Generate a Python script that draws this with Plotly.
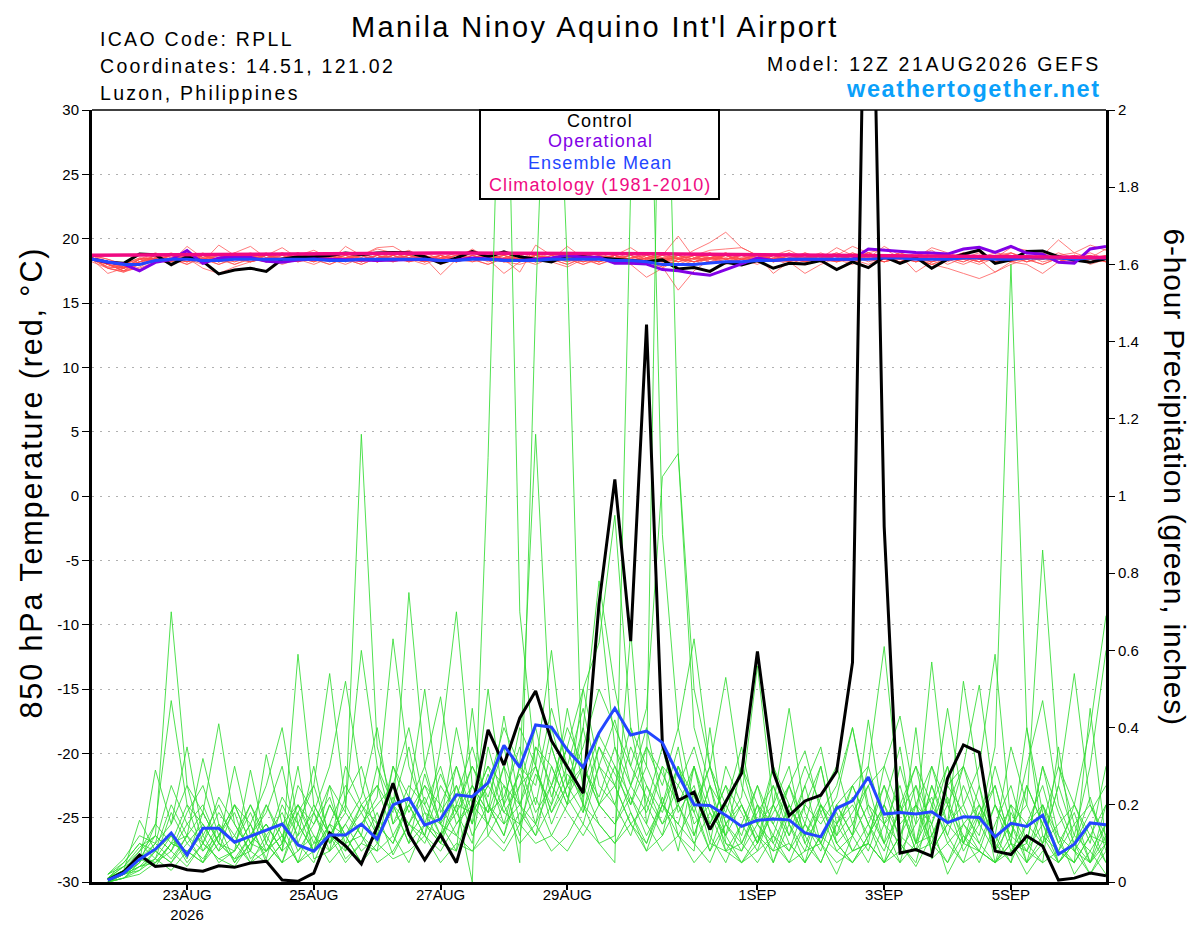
import pandas as pd
import plotly.graph_objs as go

# Time axes: temperature starts at 12Z, 6-hour precip starts at 18Z
t_times = pd.date_range("2026-08-21 12:00", periods=65, freq="6h")
p_times = t_times[1:]

# Axis ticks
xtick_vals = ["2026-08-23", "2026-08-25", "2026-08-27", "2026-08-29", "2026-09-01", "2026-09-03", "2026-09-05"]
xtick_text = ["23AUG<br>2026", "25AUG", "27AUG", "29AUG", "1SEP", "3SEP", "5SEP"]
ytick_vals = [-30, -25, -20, -15, -10, -5, 0, 5, 10, 15, 20, 25, 30]
ytick_text = ["-30", "-25", "-20", "-15", "-10", "-5", "0", "5", "10", "15", "20", "25", "30"]
y2tick_vals = [0, 0.2, 0.4, 0.6, 0.8, 1.0, 1.2, 1.4, 1.6, 1.8, 2.0]
y2tick_text = ["0", "0.2", "0.4", "0.6", "0.8", "1", "1.2", "1.4", "1.6", "1.8", "2"]

# 850 hPa temperature (C): control, operational, ensemble mean, climatology
t_ctrl = [18.42, 18.16, 18.08, 18.81, 18.75, 17.98, 18.6, 18.24, 17.26, 17.57,
          17.7, 17.46, 18.4, 18.6, 18.6, 18.7, 18.88, 18.75, 18.88, 18.93,
          18.9, 18.6, 18.1, 18.5, 19.0, 18.6, 18.97, 18.6, 18.4, 18.2,
          18.7, 18.6, 18.55, 18.45, 18.35, 18.2, 18.35, 17.65, 17.75, 17.46,
          18.16, 17.96, 18.3, 17.7, 18.08, 18.03, 18.3, 17.6, 18.2, 17.75,
          18.6, 18.08, 18.55, 17.7, 18.4, 18.8, 19.1, 18.08, 18.35, 19.0,
          19.05, 18.6, 18.35, 18.16, 18.45]
t_oper = [18.42, 18.16, 18.03, 17.5, 18.16, 18.37, 19.07, 18.08, 18.5, 18.6,
          18.55, 18.24, 18.16, 18.35, 18.42, 18.4, 18.4, 18.35, 18.3, 18.35,
          18.4, 18.4, 18.3, 18.35, 18.5, 18.4, 18.35, 18.3, 18.4, 18.5,
          18.7, 18.55, 18.55, 18.08, 18.08, 18.03, 17.6, 17.5, 17.3, 17.15,
          17.6, 18.08, 18.5, 18.3, 18.4, 18.4, 18.4, 18.45, 18.4, 19.2,
          19.1, 19.05, 18.93, 18.88, 18.8, 19.2, 19.33, 18.93, 19.4, 18.88,
          18.8, 18.16, 18.1, 19.2, 19.4]
t_mean = [18.4, 18.2, 18.0, 18.0, 18.3, 18.4, 18.4, 18.3, 18.3, 18.4,
          18.4, 18.4, 18.4, 18.4, 18.4, 18.3, 18.3, 18.4, 18.4, 18.4,
          18.4, 18.4, 18.3, 18.3, 18.4, 18.4, 18.3, 18.3, 18.3, 18.4,
          18.4, 18.4, 18.4, 18.3, 18.3, 18.2, 18.0, 18.0, 18.0, 18.1,
          18.2, 18.2, 18.3, 18.3, 18.4, 18.4, 18.4, 18.4, 18.4, 18.4,
          18.5, 18.5, 18.4, 18.4, 18.4, 18.5, 18.5, 18.4, 18.4, 18.5,
          18.5, 18.5, 18.4, 18.5, 18.5]
t_clim = [18.72, 18.73, 18.74, 18.75, 18.76, 18.77, 18.78, 18.79, 18.8, 18.81,
          18.82, 18.83, 18.84, 18.84, 18.85, 18.85, 18.86, 18.86, 18.87, 18.87,
          18.87, 18.88, 18.88, 18.88, 18.88, 18.88, 18.88, 18.87, 18.87, 18.87,
          18.86, 18.86, 18.85, 18.85, 18.84, 18.83, 18.82, 18.81, 18.8, 18.79,
          18.78, 18.77, 18.76, 18.75, 18.74, 18.73, 18.72, 18.71, 18.7, 18.69,
          18.68, 18.67, 18.66, 18.65, 18.64, 18.63, 18.62, 18.61, 18.6, 18.59,
          18.58, 18.57, 18.56, 18.55, 18.54]

# 850 hPa temperature, ensemble members
t_m01 = [18.5, 18.0, 17.5, 18.2, 18.7, 18.4, 18.9, 18.2, 19.5, 18.7, 18.4, 18.5, 18.2, 18.7, 19.1, 18.5, 18.4, 18.7, 19.2, 18.9, 18.5, 18.2, 18.4, 18.7, 19.1, 18.5, 18.7, 18.4, 18.2, 18.5, 18.9, 18.4, 18.0, 18.5, 18.7, 18.2, 17.8, 18.4, 18.7, 18.5, 18.9, 18.4, 18.0, 18.7, 19.1, 18.5, 18.2, 18.7, 18.4, 18.9, 19.2, 18.5, 18.2, 18.7, 18.4, 18.0, 18.5, 18.9, 18.7, 18.2, 18.5, 18.4, 18.7, 18.0, 18.4]
t_m02 = [18.4, 17.3, 17.7, 18.0, 18.5, 18.2, 19.4, 18.5, 18.0, 18.4, 18.7, 18.2, 18.5, 18.9, 18.4, 18.0, 18.5, 18.9, 18.4, 18.7, 19.1, 18.5, 18.2, 18.7, 18.4, 18.0, 18.5, 18.9, 18.7, 18.2, 17.8, 18.4, 18.7, 18.5, 18.0, 18.4, 18.7, 18.2, 18.5, 18.9, 18.4, 18.0, 18.5, 18.7, 18.2, 18.9, 18.5, 18.4, 18.0, 18.7, 18.5, 18.2, 18.7, 19.1, 18.4, 18.5, 18.2, 18.7, 18.9, 18.4, 18.0, 18.5, 18.7, 18.2, 18.5]
t_m03 = [18.2, 17.7, 17.4, 17.8, 18.4, 18.0, 18.5, 17.7, 17.3, 17.8, 18.2, 18.5, 18.0, 18.4, 18.7, 18.2, 19.4, 18.7, 18.2, 18.5, 18.4, 18.7, 18.0, 18.4, 18.9, 18.5, 18.2, 18.0, 18.4, 18.7, 18.5, 18.0, 18.4, 18.7, 18.2, 18.5, 18.9, 18.4, 18.2, 18.5, 18.7, 18.2, 18.5, 18.4, 18.9, 18.2, 18.5, 18.7, 18.4, 18.0, 18.5, 18.9, 18.4, 18.2, 18.7, 18.4, 18.0, 18.5, 18.2, 18.7, 18.4, 18.9, 18.5, 18.2, 18.4]
t_m04 = [18.5, 17.8, 17.7, 18.4, 18.9, 18.5, 18.2, 18.7, 18.4, 18.0, 18.5, 18.7, 18.4, 18.9, 18.5, 18.2, 18.5, 18.7, 19.3, 19.4, 18.7, 18.4, 18.5, 18.9, 18.4, 18.7, 18.2, 18.5, 18.9, 18.4, 18.0, 18.5, 18.2, 18.7, 18.4, 18.9, 18.5, 18.2, 18.7, 18.5, 18.0, 18.4, 18.7, 18.2, 18.5, 18.9, 18.4, 18.7, 18.2, 18.5, 18.4, 18.9, 18.5, 18.0, 18.4, 18.7, 18.5, 18.2, 18.9, 18.4, 18.7, 18.2, 18.5, 18.9, 18.4]
t_m05 = [18.4, 18.0, 17.5, 17.7, 18.2, 18.5, 18.0, 18.7, 18.4, 18.2, 18.7, 18.4, 18.9, 18.5, 18.2, 18.7, 18.4, 18.0, 18.5, 18.7, 18.2, 18.5, 17.2, 18.4, 19.2, 18.5, 18.2, 18.7, 18.4, 18.9, 18.5, 18.2, 18.4, 18.7, 18.0, 18.4, 18.7, 18.5, 18.2, 18.5, 18.9, 18.4, 18.2, 18.7, 18.4, 18.0, 18.5, 18.9, 18.4, 18.7, 18.2, 18.5, 18.4, 18.7, 18.0, 18.5, 18.9, 18.2, 18.5, 18.7, 18.2, 18.5, 18.4, 18.7, 18.2]
t_m06 = [18.7, 18.2, 17.8, 18.2, 18.5, 18.9, 18.4, 18.0, 18.5, 18.7, 18.2, 18.5, 18.9, 18.4, 18.7, 18.5, 18.2, 18.7, 18.4, 18.9, 18.5, 18.2, 18.7, 18.4, 18.5, 18.7, 18.4, 17.4, 19.5, 18.7, 18.2, 18.5, 18.4, 18.7, 18.2, 18.5, 18.9, 18.4, 18.0, 18.5, 18.7, 18.4, 18.2, 18.5, 18.9, 18.4, 18.7, 18.2, 18.5, 18.4, 18.7, 18.4, 18.9, 18.5, 18.2, 18.7, 18.4, 18.5, 18.2, 18.7, 18.5, 18.2, 18.7, 18.4, 18.5]
t_m07 = [18.5, 18.0, 17.7, 18.4, 18.2, 18.7, 18.4, 18.9, 18.2, 18.5, 18.4, 18.7, 18.2, 18.5, 18.4, 18.9, 18.5, 18.2, 18.7, 18.4, 18.5, 18.9, 18.4, 18.2, 18.7, 18.4, 18.5, 18.2, 18.7, 18.4, 19.4, 18.5, 18.2, 18.7, 19.3, 18.5, 18.2, 18.7, 18.4, 18.9, 18.4, 18.7, 18.2, 18.5, 18.4, 18.7, 18.2, 18.5, 18.9, 18.4, 18.5, 18.2, 18.7, 18.4, 18.5, 18.2, 18.7, 18.4, 18.9, 18.5, 18.4, 18.7, 18.2, 18.5, 18.4]
t_m08 = [18.4, 18.2, 17.8, 18.0, 18.7, 18.4, 18.5, 18.2, 18.7, 18.4, 18.2, 18.5, 18.7, 18.4, 18.0, 18.5, 18.9, 18.4, 18.7, 18.2, 18.5, 18.4, 18.7, 18.2, 18.5, 18.9, 18.4, 18.7, 18.2, 18.5, 18.4, 18.7, 18.2, 18.5, 18.9, 18.4, 18.7, 20.2, 18.5, 18.2, 18.7, 18.4, 18.5, 18.2, 18.7, 18.5, 18.9, 18.4, 18.7, 18.2, 18.5, 18.4, 18.7, 18.2, 18.5, 18.9, 18.4, 18.5, 18.7, 18.2, 18.5, 18.4, 18.7, 18.2, 18.5]
t_m09 = [18.5, 17.7, 17.4, 18.0, 18.4, 18.2, 18.7, 18.4, 18.0, 18.5, 18.2, 18.7, 18.4, 18.5, 18.9, 18.4, 18.0, 18.5, 18.2, 18.7, 18.4, 18.7, 18.2, 18.5, 18.4, 18.0, 18.5, 18.2, 18.7, 18.4, 18.9, 18.5, 18.0, 18.4, 18.7, 18.2, 17.8, 16.0, 17.5, 18.4, 18.7, 18.2, 18.5, 18.4, 18.0, 18.5, 18.2, 18.7, 18.4, 18.5, 18.2, 18.7, 18.4, 18.0, 18.5, 18.4, 18.7, 18.2, 18.5, 18.4, 18.0, 18.5, 18.4, 18.7, 18.2]
t_m10 = [18.4, 18.0, 17.7, 18.2, 18.5, 18.0, 18.4, 18.7, 18.2, 18.5, 18.9, 18.4, 18.5, 18.2, 18.7, 18.4, 18.7, 18.2, 18.5, 18.9, 18.4, 18.0, 18.5, 18.2, 18.7, 18.4, 18.7, 18.2, 18.5, 18.4, 18.0, 18.5, 18.9, 18.4, 18.7, 18.2, 18.5, 18.4, 19.1, 19.7, 20.5, 19.3, 18.7, 18.4, 18.5, 18.2, 18.7, 18.4, 18.5, 18.9, 18.4, 18.5, 18.2, 18.7, 18.4, 18.5, 18.2, 18.7, 18.4, 18.5, 18.7, 18.4, 18.5, 18.2, 18.7]
t_m11 = [18.7, 18.4, 18.0, 18.5, 18.4, 18.7, 18.2, 18.5, 18.4, 18.9, 18.5, 18.2, 18.4, 18.7, 18.4, 18.0, 18.5, 18.4, 18.7, 18.2, 18.7, 18.4, 18.7, 18.2, 18.5, 18.4, 18.7, 18.4, 18.0, 18.5, 18.7, 18.2, 18.5, 18.4, 18.7, 18.4, 18.2, 18.5, 18.7, 19.1, 19.2, 19.3, 18.7, 18.4, 18.2, 17.3, 18.0, 18.5, 18.4, 18.7, 18.2, 18.5, 18.4, 18.9, 18.5, 18.2, 18.7, 18.4, 18.5, 18.2, 18.7, 18.4, 18.5, 18.7, 18.4]
t_m12 = [18.5, 18.0, 17.5, 18.0, 18.4, 18.7, 18.4, 18.2, 18.5, 18.0, 18.4, 18.7, 18.5, 18.2, 18.5, 18.7, 18.4, 18.2, 18.7, 18.5, 18.2, 18.5, 18.7, 18.4, 18.2, 18.5, 18.9, 18.4, 18.7, 18.2, 18.5, 18.4, 18.7, 18.2, 18.5, 18.7, 18.4, 18.2, 18.5, 18.7, 18.4, 18.0, 18.5, 18.7, 18.4, 18.2, 18.5, 18.9, 18.4, 18.7, 18.5, 18.2, 18.4, 18.0, 17.7, 17.3, 16.9, 17.4, 18.0, 18.4, 18.7, 18.2, 18.5, 18.4, 18.2]
t_m13 = [18.4, 17.8, 17.7, 18.2, 18.5, 18.4, 18.2, 18.5, 18.7, 18.4, 18.5, 18.2, 18.7, 18.4, 18.5, 18.9, 18.4, 18.0, 18.5, 18.4, 18.7, 18.5, 18.2, 18.5, 18.7, 18.2, 18.5, 18.4, 18.7, 18.5, 18.4, 18.7, 18.4, 18.2, 18.5, 18.9, 18.4, 18.7, 18.2, 18.5, 18.4, 18.7, 18.5, 18.2, 18.4, 18.7, 18.4, 18.2, 18.5, 18.9, 18.4, 18.7, 18.2, 18.5, 18.4, 18.7, 18.4, 18.5, 19.3, 19.1, 18.7, 19.9, 18.9, 18.5, 18.2]
t_m14 = [18.5, 18.2, 17.8, 18.4, 18.7, 18.2, 18.5, 18.4, 18.7, 18.2, 18.5, 18.4, 18.7, 18.2, 18.5, 18.4, 18.7, 18.5, 18.2, 18.4, 18.7, 18.4, 18.5, 18.9, 18.2, 18.5, 18.4, 18.2, 18.7, 18.5, 18.2, 18.7, 18.5, 18.4, 18.0, 18.5, 18.2, 18.7, 18.4, 18.5, 18.2, 18.5, 18.7, 18.4, 18.2, 18.5, 18.7, 18.2, 18.9, 18.5, 19.4, 18.7, 17.4, 18.2, 18.7, 18.4, 18.5, 18.2, 18.7, 18.4, 18.9, 18.5, 18.2, 18.4, 18.7]
t_m15 = [18.7, 18.0, 17.7, 18.0, 18.4, 18.2, 18.7, 18.5, 18.2, 18.7, 18.4, 18.2, 18.5, 18.9, 18.4, 18.7, 18.2, 18.5, 18.4, 18.7, 18.2, 18.5, 18.4, 18.7, 18.5, 18.4, 18.2, 18.5, 18.7, 18.4, 18.5, 18.9, 18.4, 18.7, 18.2, 18.5, 18.4, 18.0, 18.5, 18.4, 18.7, 18.2, 18.5, 18.4, 18.7, 18.4, 18.5, 19.3, 18.7, 18.4, 18.2, 18.5, 18.7, 18.4, 18.5, 18.9, 18.4, 18.7, 18.2, 18.5, 18.4, 18.7, 18.9, 19.5, 19.1]
t_m16 = [18.4, 17.7, 17.5, 18.4, 18.5, 18.4, 18.0, 18.5, 18.2, 18.7, 18.5, 18.9, 18.2, 18.4, 18.7, 18.5, 18.4, 18.7, 18.2, 18.5, 18.4, 18.7, 18.2, 18.5, 18.4, 18.7, 18.4, 18.5, 18.2, 18.7, 18.4, 18.0, 18.5, 18.7, 18.4, 18.2, 18.5, 18.7, 18.4, 18.5, 18.2, 18.4, 18.7, 17.3, 18.2, 18.5, 18.4, 18.7, 19.4, 18.9, 18.5, 18.2, 18.7, 18.4, 18.5, 18.7, 18.2, 18.5, 18.4, 18.7, 18.5, 18.2, 18.7, 18.4, 18.5]
t_m17 = [18.5, 18.2, 18.0, 18.5, 18.4, 18.7, 18.4, 18.7, 18.2, 18.5, 18.4, 18.7, 19.3, 18.5, 18.2, 18.7, 18.4, 18.5, 18.2, 18.7, 18.4, 18.2, 18.5, 18.7, 18.4, 18.5, 18.7, 18.2, 18.5, 18.4, 18.7, 18.4, 18.2, 18.5, 18.0, 17.0, 17.7, 18.4, 18.7, 18.2, 18.5, 18.4, 18.7, 18.2, 18.5, 18.7, 18.4, 18.2, 18.5, 18.7, 18.4, 18.7, 18.5, 18.2, 18.5, 18.4, 18.7, 18.2, 18.5, 18.4, 18.7, 18.4, 18.5, 18.2, 18.4]
t_m18 = [18.4, 18.0, 17.8, 18.2, 18.7, 18.4, 18.5, 18.2, 18.4, 18.7, 18.2, 18.5, 18.4, 18.7, 18.5, 18.4, 18.7, 18.2, 18.5, 18.4, 18.5, 18.2, 18.7, 18.4, 18.5, 18.9, 18.4, 18.5, 18.2, 18.7, 18.4, 18.5, 18.2, 18.7, 18.4, 18.5, 18.7, 18.4, 18.2, 18.5, 18.4, 18.7, 18.2, 18.5, 18.4, 18.7, 18.2, 18.5, 18.4, 18.7, 18.5, 18.4, 18.7, 18.2, 18.5, 18.4, 18.7, 18.5, 18.2, 18.0, 17.3, 18.2, 18.7, 18.5, 19.2]
t_m19 = [18.5, 18.2, 17.7, 18.2, 18.5, 18.4, 18.7, 18.2, 18.5, 18.4, 18.7, 18.4, 18.2, 18.5, 18.7, 18.4, 18.5, 18.9, 18.4, 18.2, 18.5, 18.7, 18.4, 18.2, 18.5, 18.4, 17.3, 18.2, 18.7, 18.4, 18.5, 18.2, 18.7, 18.4, 18.5, 18.7, 18.4, 18.5, 18.2, 18.7, 18.4, 18.5, 18.2, 18.7, 18.4, 18.5, 18.7, 18.4, 18.2, 18.5, 18.4, 18.7, 18.5, 19.3, 18.9, 18.5, 18.2, 18.7, 18.4, 18.5, 18.4, 18.7, 18.2, 18.5, 18.7]
t_m20 = [18.7, 18.4, 18.0, 18.4, 18.2, 18.5, 18.2, 18.7, 18.4, 18.9, 19.4, 18.5, 18.4, 18.7, 18.2, 18.5, 18.4, 18.7, 18.2, 18.5, 18.7, 18.4, 18.5, 18.2, 18.7, 18.4, 18.5, 18.7, 18.4, 18.2, 18.5, 18.7, 18.4, 18.5, 18.2, 18.7, 18.4, 18.5, 18.2, 18.4, 18.5, 18.2, 18.7, 18.4, 18.5, 18.2, 18.5, 18.4, 18.7, 18.4, 18.5, 18.7, 18.2, 18.5, 18.4, 18.7, 18.4, 17.4, 18.2, 18.5, 18.4, 18.7, 18.5, 18.2, 18.4]

# 6-hour precipitation (inches): control and ensemble mean
p_ctrl = [0.005, 0.026, 0.07, 0.04, 0.044, 0.032, 0.028, 0.042, 0.038, 0.049,
          0.054, 0.005, 0.002, 0.023, 0.127, 0.094, 0.047, 0.142, 0.256, 0.124,
          0.057, 0.122, 0.05, 0.193, 0.394, 0.303, 0.425, 0.495, 0.366, 0.297,
          0.23, 0.72, 1.043, 0.624, 1.444, 0.357, 0.211, 0.233, 0.136, 0.208,
          0.282, 0.597, 0.285, 0.172, 0.21, 0.225, 0.287, 0.569, 3.0, 0.92,
          0.075, 0.084, 0.067, 0.269, 0.355, 0.336, 0.08, 0.071, 0.119, 0.093,
          0.005, 0.01, 0.023, 0.016]
p_mean = [0.005, 0.023, 0.059, 0.085, 0.127, 0.07, 0.139, 0.139, 0.103, 0.119,
          0.135, 0.15, 0.096, 0.08, 0.122, 0.122, 0.15, 0.111, 0.2, 0.217,
          0.147, 0.163, 0.226, 0.221, 0.257, 0.354, 0.297, 0.407, 0.401, 0.342,
          0.297, 0.386, 0.45, 0.381, 0.391, 0.361, 0.277, 0.2, 0.198, 0.173,
          0.144, 0.16, 0.163, 0.161, 0.127, 0.117, 0.191, 0.21, 0.272, 0.176,
          0.18, 0.176, 0.182, 0.154, 0.169, 0.167, 0.117, 0.152, 0.144, 0.173,
          0.072, 0.098, 0.153, 0.148]

# 6-hour precipitation, ensemble members
p_m01 = [0.01, 0.03, 0.08, 0.12, 0.70, 0.25, 0.10, 0.06, 0.04, 0.10, 0.15, 0.08, 0.59, 0.20, 0.12, 0.05, 0.10, 0.18, 0.07, 0.15, 0.22, 0.12, 0.30, 0.18, 0.25, 0.40, 0.30, 1.16, 0.35, 0.22, 0.15, 0.30, 0.42, 0.25, 0.18, 0.30, 0.12, 0.20, 0.08, 0.15, 0.22, 0.56, 0.20, 0.10, 0.05, 0.12, 0.18, 0.08, 0.15, 0.25, 0.10, 0.04, 0.12, 0.20, 0.30, 0.15, 0.35, 1.60, 0.40, 0.12, 0.05, 0.10, 0.22, 0.08]
p_m02 = [0.00, 0.02, 0.05, 0.15, 0.47, 0.20, 0.08, 0.12, 0.18, 0.06, 0.10, 0.22, 0.15, 0.08, 0.25, 0.18, 1.16, 0.35, 0.20, 0.10, 0.28, 0.15, 0.08, 0.20, 0.30, 0.18, 0.25, 0.40, 0.22, 0.35, 0.50, 0.62, 0.95, 0.40, 0.30, 0.20, 0.35, 0.12, 0.25, 0.08, 0.10, 0.20, 0.05, 0.15, 0.25, 0.10, 0.02, 0.12, 0.30, 0.61, 0.20, 0.08, 0.15, 0.02, 0.10, 0.25, 0.05, 0.18, 0.10, 0.30, 0.12, 0.02, 0.08, 0.15]
p_m03 = [0.02, 0.05, 0.10, 0.08, 0.20, 0.12, 0.05, 0.15, 0.10, 0.20, 0.12, 0.05, 0.18, 0.25, 0.54, 0.20, 0.12, 0.08, 0.30, 0.22, 0.15, 0.10, 0.20, 0.00, 1.10, 2.60, 0.70, 0.30, 0.15, 0.25, 0.40, 0.20, 0.30, 0.18, 0.10, 0.22, 0.08, 0.30, 0.12, 0.05, 0.15, 0.08, 0.20, 0.30, 0.10, 0.18, 0.25, 0.40, 0.20, 0.10, 0.30, 0.15, 0.57, 0.20, 0.08, 0.15, 0.25, 0.10, 0.05, 0.20, 0.12, 0.08, 0.02, 0.10]
p_m04 = [0.01, 0.04, 0.06, 0.10, 0.15, 0.25, 0.18, 0.41, 0.15, 0.08, 0.20, 0.12, 0.05, 0.18, 0.10, 0.22, 0.30, 0.15, 0.25, 0.40, 0.20, 0.12, 0.18, 0.25, 0.15, 0.30, 0.05, 1.50, 2.60, 1.60, 0.18, 0.35, 0.25, 0.40, 0.20, 0.12, 0.30, 0.18, 0.08, 0.20, 0.35, 0.15, 0.08, 0.20, 0.12, 0.05, 0.15, 0.22, 0.10, 0.30, 0.18, 0.25, 0.08, 0.15, 0.30, 0.20, 0.12, 0.35, 0.20, 0.86, 0.30, 0.15, 0.20, 0.10]
p_m05 = [0.00, 0.01, 0.04, 0.05, 0.10, 0.08, 0.12, 0.05, 0.08, 0.15, 0.05, 0.10, 0.20, 0.12, 0.08, 0.30, 0.20, 0.25, 0.18, 0.75, 0.30, 0.15, 0.22, 0.35, 0.20, 0.12, 0.30, 0.25, 0.45, 0.30, 0.20, 0.10, 0.05, 1.80, 2.60, 0.90, 0.40, 0.20, 0.30, 0.15, 0.08, 0.20, 0.12, 0.25, 0.15, 0.30, 0.10, 0.05, 0.12, 0.20, 0.35, 0.10, 0.25, 0.15, 0.20, 0.30, 0.59, 0.15, 0.08, 0.20, 0.10, 0.05, 0.12, 0.20]
p_m06 = [0.02, 0.06, 0.12, 0.10, 0.25, 0.15, 0.20, 0.10, 0.06, 0.12, 0.18, 0.30, 0.10, 0.05, 0.15, 0.25, 0.18, 0.10, 0.22, 0.15, 0.12, 0.35, 0.70, 0.25, 0.18, 0.30, 0.20, 0.35, 0.25, 0.40, 0.30, 0.22, 0.35, 0.20, 0.30, 2.70, 1.11, 0.40, 0.25, 0.12, 0.20, 0.10, 0.30, 0.15, 0.08, 0.20, 0.12, 0.25, 0.15, 0.05, 0.20, 0.30, 0.12, 0.22, 0.10, 0.08, 0.20, 0.12, 0.25, 0.15, 0.30, 0.20, 0.40, 0.69]
p_m07 = [0.01, 0.03, 0.06, 0.12, 0.08, 0.18, 0.25, 0.12, 0.20, 0.10, 0.15, 0.08, 0.25, 0.18, 0.30, 0.52, 0.25, 0.12, 0.20, 0.35, 0.15, 0.28, 0.18, 0.10, 0.35, 0.20, 0.40, 0.30, 0.18, 0.25, 0.35, 0.50, 0.40, 0.30, 0.45, 1.05, 1.11, 0.50, 0.30, 0.20, 0.12, 0.25, 0.15, 0.08, 0.20, 0.30, 0.12, 0.18, 0.25, 0.10, 0.18, 0.30, 0.20, 0.12, 0.25, 0.15, 0.08, 0.20, 0.15, 0.10, 0.25, 0.54, 0.20, 0.12]
p_m08 = [0.00, 0.02, 0.03, 0.06, 0.12, 0.05, 0.10, 0.18, 0.12, 0.05, 0.08, 0.15, 0.10, 0.20, 0.12, 0.08, 0.15, 0.22, 0.63, 0.30, 0.18, 0.10, 0.25, 0.15, 0.28, 0.15, 0.20, 0.12, 0.30, 0.20, 0.25, 0.38, 0.30, 0.22, 0.15, 0.30, 0.25, 0.18, 0.30, 0.53, 0.25, 0.15, 0.30, 0.20, 0.10, 0.05, 0.15, 0.20, 0.12, 0.25, 0.15, 0.20, 0.30, 0.15, 0.52, 0.25, 0.10, 0.20, 0.05, 0.12, 0.08, 0.15, 0.05, 0.20]
p_m09 = [0.01, 0.05, 0.10, 0.06, 0.18, 0.10, 0.15, 0.08, 0.20, 0.15, 0.25, 0.40, 0.15, 0.08, 0.20, 0.12, 0.18, 0.25, 0.12, 0.20, 0.30, 0.48, 0.20, 0.30, 0.22, 0.35, 0.15, 0.28, 0.20, 0.30, 0.45, 0.25, 0.20, 0.35, 0.25, 0.15, 0.20, 0.30, 0.15, 0.25, 0.10, 0.18, 0.25, 0.12, 0.20, 0.15, 0.22, 0.40, 0.18, 0.10, 0.05, 0.20, 0.15, 0.25, 0.30, 0.51, 0.20, 0.08, 0.15, 0.25, 0.10, 0.18, 0.05, 0.12]
p_m10 = [0.00, 0.01, 0.05, 0.29, 0.15, 0.35, 0.12, 0.20, 0.10, 0.05, 0.12, 0.18, 0.08, 0.15, 0.22, 0.10, 0.20, 0.12, 0.30, 0.18, 0.25, 0.15, 0.12, 0.25, 0.18, 0.22, 0.35, 0.20, 0.40, 0.25, 0.18, 0.30, 0.25, 0.15, 0.20, 0.35, 0.18, 0.25, 0.10, 0.30, 0.20, 0.12, 0.05, 0.18, 0.30, 0.20, 0.10, 0.15, 0.25, 0.30, 0.43, 0.20, 0.10, 0.25, 0.18, 0.12, 0.30, 0.15, 0.20, 0.10, 0.25, 0.12, 0.30, 0.60]
p_m11 = [0.01, 0.03, 0.07, 0.05, 0.10, 0.20, 0.15, 0.08, 0.12, 0.20, 0.10, 0.05, 0.15, 0.25, 0.12, 0.20, 0.60, 0.30, 0.15, 0.25, 0.20, 0.30, 0.15, 0.20, 0.30, 0.25, 0.12, 0.35, 0.30, 0.20, 0.40, 0.78, 0.50, 0.30, 0.22, 0.15, 0.25, 0.35, 0.20, 0.12, 0.30, 0.20, 0.15, 0.25, 0.34, 0.18, 0.08, 0.12, 0.20, 0.15, 0.25, 0.10, 0.30, 0.20, 0.12, 0.05, 0.15, 0.25, 0.10, 0.30, 0.18, 0.08, 0.15, 0.05]
p_m12 = [0.00, 0.02, 0.04, 0.08, 0.05, 0.12, 0.08, 0.15, 0.05, 0.12, 0.20, 0.10, 0.18, 0.08, 0.15, 0.12, 0.20, 0.15, 0.10, 0.22, 0.50, 0.18, 0.25, 0.12, 0.20, 0.15, 0.30, 0.18, 0.25, 0.35, 0.20, 0.73, 0.35, 0.25, 0.40, 0.20, 0.15, 0.30, 0.18, 0.08, 0.15, 0.25, 0.10, 0.20, 0.12, 0.22, 0.30, 0.15, 0.08, 0.20, 0.12, 0.25, 0.15, 0.30, 0.10, 0.20, 0.12, 0.05, 0.25, 0.15, 0.08, 0.20, 0.10, 0.30]
p_m13 = [0.01, 0.04, 0.09, 0.12, 0.08, 0.15, 0.10, 0.22, 0.15, 0.08, 0.33, 0.15, 0.20, 0.10, 0.12, 0.18, 0.12, 0.30, 0.20, 0.15, 0.25, 0.20, 0.30, 0.15, 0.50, 0.20, 0.28, 0.15, 0.35, 0.22, 0.30, 0.20, 0.15, 0.25, 0.35, 0.28, 0.20, 0.12, 0.25, 0.18, 0.30, 0.15, 0.20, 0.45, 0.18, 0.10, 0.20, 0.12, 0.05, 0.15, 0.20, 0.08, 0.25, 0.12, 0.05, 0.18, 0.10, 0.05, 0.15, 0.20, 0.05, 0.10, 0.18, 0.25]
p_m14 = [0.00, 0.01, 0.03, 0.08, 0.12, 0.06, 0.18, 0.10, 0.08, 0.15, 0.06, 0.20, 0.12, 0.18, 0.08, 0.15, 0.22, 0.40, 0.15, 0.20, 0.12, 0.25, 0.18, 0.30, 0.20, 0.12, 0.25, 0.30, 0.60, 0.25, 0.30, 0.20, 0.25, 0.15, 0.10, 0.20, 0.30, 0.22, 0.15, 0.25, 0.18, 0.10, 0.25, 0.15, 0.05, 0.20, 0.15, 0.25, 0.30, 0.15, 0.10, 0.05, 0.20, 0.30, 0.15, 0.10, 0.20, 0.12, 0.30, 0.47, 0.20, 0.10, 0.05, 0.15]
p_m15 = [0.02, 0.04, 0.08, 0.15, 0.10, 0.12, 0.32, 0.15, 0.10, 0.18, 0.08, 0.12, 0.20, 0.15, 0.25, 0.08, 0.15, 0.20, 0.25, 0.12, 0.18, 0.15, 0.40, 0.20, 0.15, 0.25, 0.20, 0.30, 0.18, 0.28, 0.22, 0.35, 0.28, 0.20, 0.35, 0.25, 0.40, 0.63, 0.30, 0.15, 0.20, 0.10, 0.18, 0.25, 0.12, 0.20, 0.10, 0.05, 0.12, 0.20, 0.08, 0.15, 0.22, 0.10, 0.15, 0.20, 0.08, 0.15, 0.05, 0.10, 0.15, 0.20, 0.12, 0.05]
p_m16 = [0.00, 0.02, 0.06, 0.04, 0.10, 0.08, 0.05, 0.12, 0.20, 0.10, 0.15, 0.08, 0.12, 0.30, 0.10, 0.15, 0.08, 0.12, 0.20, 0.10, 0.15, 0.12, 0.20, 0.18, 0.25, 0.18, 0.15, 0.22, 0.12, 0.20, 0.50, 0.30, 0.20, 0.12, 0.25, 0.18, 0.30, 0.15, 0.20, 0.10, 0.08, 0.15, 0.10, 0.05, 0.15, 0.08, 0.20, 0.25, 0.15, 0.08, 0.20, 0.10, 0.18, 0.45, 0.20, 0.10, 0.05, 0.12, 0.08, 0.15, 0.05, 0.10, 0.02, 0.08]
p_m17 = [0.01, 0.02, 0.05, 0.10, 0.06, 0.12, 0.18, 0.10, 0.30, 0.12, 0.08, 0.15, 0.05, 0.10, 0.20, 0.12, 0.05, 0.15, 0.10, 0.20, 0.12, 0.08, 0.15, 0.22, 0.18, 0.43, 0.20, 0.15, 0.25, 0.18, 0.12, 0.20, 0.15, 0.22, 0.12, 0.20, 0.15, 0.10, 0.18, 0.12, 0.05, 0.10, 0.20, 0.12, 0.25, 0.35, 0.15, 0.08, 0.10, 0.05, 0.12, 0.20, 0.08, 0.15, 0.10, 0.18, 0.25, 0.10, 0.40, 0.18, 0.08, 0.05, 0.12, 0.10]
p_m18 = [0.00, 0.01, 0.02, 0.05, 0.08, 0.04, 0.10, 0.06, 0.08, 0.29, 0.10, 0.05, 0.08, 0.12, 0.05, 0.10, 0.12, 0.05, 0.08, 0.15, 0.10, 0.20, 0.12, 0.08, 0.15, 0.10, 0.18, 0.12, 0.20, 0.45, 0.25, 0.15, 0.10, 0.18, 0.08, 0.12, 0.20, 0.10, 0.05, 0.15, 0.10, 0.05, 0.12, 0.08, 0.15, 0.10, 0.20, 0.12, 0.42, 0.15, 0.05, 0.10, 0.12, 0.05, 0.15, 0.08, 0.05, 0.10, 0.02, 0.08, 0.05, 0.12, 0.08, 0.02]
p_m19 = [0.01, 0.03, 0.16, 0.08, 0.05, 0.10, 0.06, 0.12, 0.05, 0.10, 0.08, 0.12, 0.05, 0.08, 0.15, 0.06, 0.10, 0.08, 0.12, 0.05, 0.15, 0.10, 0.08, 0.45, 0.12, 0.20, 0.10, 0.15, 0.08, 0.12, 0.20, 0.15, 0.10, 0.15, 0.08, 0.20, 0.12, 0.08, 0.40, 0.10, 0.05, 0.12, 0.08, 0.10, 0.05, 0.12, 0.08, 0.05, 0.10, 0.05, 0.12, 0.08, 0.10, 0.05, 0.12, 0.08, 0.05, 0.10, 0.08, 0.05, 0.35, 0.08, 0.05, 0.10]
p_m20 = [0.00, 0.02, 0.04, 0.06, 0.03, 0.08, 0.05, 0.10, 0.06, 0.08, 0.05, 0.10, 0.30, 0.06, 0.08, 0.12, 0.05, 0.10, 0.06, 0.08, 0.12, 0.05, 0.10, 0.08, 0.12, 0.08, 0.15, 0.10, 0.12, 0.08, 0.15, 0.10, 0.12, 0.65, 0.15, 0.08, 0.12, 0.05, 0.10, 0.08, 0.05, 0.08, 0.12, 0.05, 0.08, 0.10, 0.05, 0.08, 0.10, 0.05, 0.08, 0.40, 0.06, 0.10, 0.05, 0.08, 0.05, 0.08, 0.10, 0.05, 0.08, 0.05, 0.45, 0.10]

t_members = [t_m01, t_m02, t_m03, t_m04, t_m05, t_m06, t_m07, t_m08, t_m09, t_m10,
             t_m11, t_m12, t_m13, t_m14, t_m15, t_m16, t_m17, t_m18, t_m19, t_m20]
p_members = [p_m01, p_m02, p_m03, p_m04, p_m05, p_m06, p_m07, p_m08, p_m09, p_m10,
             p_m11, p_m12, p_m13, p_m14, p_m15, p_m16, p_m17, p_m18, p_m19, p_m20]

FONT = "Liberation Sans, Arial, sans-serif"

# target plot area on the page in pixels: x 92..1106, y 110..883
def px_x(x):
    return (x - 92) / 1014

def px_y(y):
    return (883 - y) / 773

def spaced(s, ls):
    return f'<span style="letter-spacing:{ls}px">{s}</span>'

fig = go.Figure()

# Ensemble precipitation (green, right axis)
for m in p_members:
    fig.add_trace(go.Scatter(x=p_times, y=m, mode='lines', yaxis='y2',
                             line=dict(color='rgb(50,220,50)', width=0.85)))

# Ensemble temperature (red, left axis)
for m in t_members:
    fig.add_trace(go.Scatter(x=t_times, y=m, mode='lines', opacity=0.8,
                             line=dict(color='rgb(255,75,75)', width=0.9)))

# Control / operational / mean / climatology temperature
fig.add_trace(go.Scatter(x=t_times, y=t_ctrl, mode='lines', line=dict(color='black', width=3)))
fig.add_trace(go.Scatter(x=t_times, y=t_oper, mode='lines', line=dict(color='rgb(130,0,230)', width=3)))
fig.add_trace(go.Scatter(x=t_times, y=t_mean, mode='lines', line=dict(color='rgb(35,70,255)', width=3)))
fig.add_trace(go.Scatter(x=t_times, y=t_clim, mode='lines', line=dict(color='rgb(240,10,130)', width=3.5)))

# Control and mean precipitation
fig.add_trace(go.Scatter(x=p_times, y=p_ctrl, mode='lines', yaxis='y2', line=dict(color='black', width=3)))
fig.add_trace(go.Scatter(x=p_times, y=p_mean, mode='lines', yaxis='y2', line=dict(color='rgb(35,70,255)', width=3)))

# margins compensate for the page offset so the frame lands at 92..1106 / 110..883
fig.update_layout(
    width=1200, height=927,
    margin=dict(l=84, r=102, t=102, b=30),
    paper_bgcolor='white', plot_bgcolor='white',
    showlegend=False, hovermode=False,
    font=dict(family=FONT, size=15, color='black'),
    xaxis=dict(range=["2026-08-21 12:00", "2026-09-06 12:00"],
               tickvals=xtick_vals, ticktext=xtick_text,
               ticks='outside', ticklen=5, tickwidth=1.5, tickcolor='black',
               ticklabelstandoff=-8,
               showline=True, linewidth=3, linecolor='black',
               showgrid=False, zeroline=False, tickfont=dict(size=15)),
    yaxis=dict(range=[-30, 30], tickvals=ytick_vals, ticktext=ytick_text,
               ticks='outside', ticklen=7, tickwidth=1.2, tickcolor='black',
               showline=True, linewidth=3, linecolor='black',
               showgrid=True, gridcolor='#b0b0b0', gridwidth=1.2, griddash='2px,6px',
               zeroline=False, tickfont=dict(size=15)),
    yaxis2=dict(range=[0, 2], overlaying='y', side='right',
                tickvals=y2tick_vals, ticktext=y2tick_text,
                ticks='outside', ticklen=6, tickwidth=1.2, tickcolor='black',
                showline=True, linewidth=3, linecolor='black',
                showgrid=False, zeroline=False, tickfont=dict(size=15)),
)

# top frame line and legend box
fig.add_shape(type='line', xref='paper', yref='paper', x0=0, x1=1, y0=1, y1=1,
              line=dict(color='black', width=1.5), layer='above')
fig.add_shape(type='rect', xref='paper', yref='paper',
              x0=px_x(480), x1=px_x(719), y0=px_y(199), y1=1,
              fillcolor='white', line=dict(color='black', width=2), layer='above')

legend_items = [("Control", 'black', 121), ("Operational", 'rgb(130,0,230)', 141),
                ("Ensemble Mean", 'rgb(35,70,255)', 163.5), ("Climatology (1981-2010)", 'rgb(240,10,130)', 185.5)]
for label, color, ypx in legend_items:
    fig.add_annotation(text=spaced(label, 1.1), x=px_x(600), y=px_y(ypx), xref='paper', yref='paper',
                       xanchor='center', yanchor='middle', showarrow=False,
                       font=dict(family=FONT, size=18, color=color))

# Header texts (title box starts right at the top edge of the figure)
fig.add_annotation(text=spaced("Manila Ninoy Aquino Int'l Airport", 2.4), x=px_x(595), y=px_y(8.5),
                   xref='paper', yref='paper', xanchor='center', yanchor='top', showarrow=False,
                   font=dict(family=FONT, size=29, color='black'))
for txt, ypx in [("ICAO Code: RPLL", 39), ("Coordinates: 14.51, 121.02", 65.5), ("Luzon, Philippines", 92.5)]:
    fig.add_annotation(text=spaced(txt, 2.3), x=px_x(98), y=px_y(ypx), xref='paper', yref='paper',
                       xanchor='left', yanchor='middle', showarrow=False,
                       font=dict(family=FONT, size=19.5, color='black'))
fig.add_annotation(text=spaced("Model: 12Z 21AUG2026 GEFS", 2.6), x=px_x(1103), y=px_y(64),
                   xref='paper', yref='paper', xanchor='right', yanchor='middle', showarrow=False,
                   font=dict(family=FONT, size=19.5, color='black'))
fig.add_annotation(text=spaced("<b>weathertogether.net</b>", 1.6), x=px_x(1103), y=px_y(89),
                   xref='paper', yref='paper', xanchor='right', yanchor='middle', showarrow=False,
                   font=dict(family=FONT, size=23.5, color='rgb(10,160,250)'))

# Axis titles
fig.add_annotation(text=spaced("850 hPa Temperature (red, °C)", 1.9), x=px_x(32), y=px_y(483),
                   xref='paper', yref='paper', xanchor='center', yanchor='middle', showarrow=False,
                   textangle=-90, font=dict(family=FONT, size=30.5, color='black'))
fig.add_annotation(text=spaced("6-hour Precipitation (green, inches)", 0.8), x=px_x(1174), y=px_y(477),
                   xref='paper', yref='paper', xanchor='center', yanchor='middle', showarrow=False,
                   textangle=90, font=dict(family=FONT, size=30, color='black'))

fig.write_html("out.html")
